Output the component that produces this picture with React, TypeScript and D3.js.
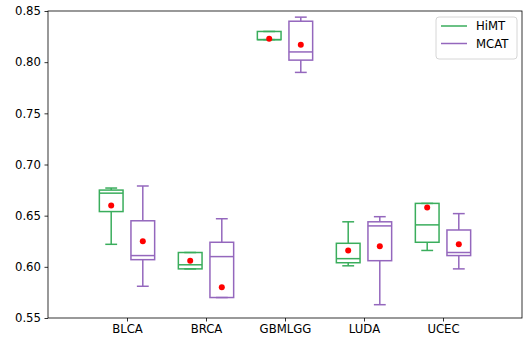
import { useRef, useEffect } from 'react';
import * as d3 from 'd3';

const categories = ['BLCA', 'BRCA', 'GBMLGG', 'LUDA', 'UCEC'];
const seriesNames = ['HiMT', 'MCAT'];
const colors = ['#3aad5c', '#9467bd'];

// box stats: [whislo, q1, median, q3, whishi]
const himtBoxes = [
  [0.622, 0.654, 0.672, 0.675, 0.677],
  [0.598, 0.598, 0.602, 0.614, 0.614],
  [0.822, 0.822, 0.822, 0.830, 0.830],
  [0.601, 0.604, 0.608, 0.623, 0.644],
  [0.616, 0.624, 0.641, 0.662, 0.662],
];
const mcatBoxes = [
  [0.581, 0.607, 0.611, 0.645, 0.679],
  [0.570, 0.570, 0.610, 0.624, 0.647],
  [0.790, 0.802, 0.810, 0.840, 0.844],
  [0.563, 0.606, 0.640, 0.644, 0.649],
  [0.598, 0.611, 0.614, 0.636, 0.652],
];
const himtMeans = [0.660, 0.606, 0.823, 0.616, 0.658];
const mcatMeans = [0.625, 0.580, 0.817, 0.620, 0.622];
const yTicks = [0.55, 0.6, 0.65, 0.7, 0.75, 0.8, 0.85];

export default function App() {
  const svgRef = useRef(null);

  useEffect(() => {
    const width = 526, height = 340;
    const margin = { left: 48, right: 4, top: 11, bottom: 22 };

    const svg = d3.select(svgRef.current);
    svg.selectAll('*').remove();

    const x = d3.scaleLinear().domain([0, 6]).range([margin.left, width - margin.right]);
    const y = d3.scaleLinear().domain([0.55, 0.85]).range([height - margin.bottom, margin.top]);

    const offsets = [-0.2, 0.2];
    const boxW = 0.3;
    const allBoxes = [himtBoxes, mcatBoxes];
    const allMeans = [himtMeans, mcatMeans];

    const g = svg.append('g');

    allBoxes.forEach((boxes, s) => {
      boxes.forEach((b, i) => {
        const cx = x(i + 1 + offsets[s]);
        const x0 = x(i + 1 + offsets[s] - boxW / 2);
        const x1 = x(i + 1 + offsets[s] + boxW / 2);
        const capHalf = (x1 - x0) / 4;
        const grp = g.append('g')
          .attr('stroke', colors[s])
          .attr('stroke-width', 1.5)
          .attr('fill', 'none');
        // whiskers
        grp.append('line').attr('x1', cx).attr('x2', cx).attr('y1', y(b[0])).attr('y2', y(b[1]));
        grp.append('line').attr('x1', cx).attr('x2', cx).attr('y1', y(b[3])).attr('y2', y(b[4]));
        // caps
        grp.append('line').attr('x1', cx - capHalf).attr('x2', cx + capHalf).attr('y1', y(b[0])).attr('y2', y(b[0]));
        grp.append('line').attr('x1', cx - capHalf).attr('x2', cx + capHalf).attr('y1', y(b[4])).attr('y2', y(b[4]));
        // box
        grp.append('rect')
          .attr('x', x0).attr('width', x1 - x0)
          .attr('y', y(b[3])).attr('height', y(b[1]) - y(b[3]));
        // median
        grp.append('line').attr('x1', x0).attr('x2', x1).attr('y1', y(b[2])).attr('y2', y(b[2]));
        // mean
        g.append('circle')
          .attr('cx', cx).attr('cy', y(allMeans[s][i]))
          .attr('r', 3).attr('fill', 'red');
      });
    });

    // frame
    svg.append('rect')
      .attr('x', margin.left).attr('y', margin.top)
      .attr('width', width - margin.left - margin.right)
      .attr('height', height - margin.top - margin.bottom)
      .attr('fill', 'none').attr('stroke', '#000').attr('stroke-width', 0.8);

    const yAxis = svg.append('g')
      .attr('transform', `translate(${margin.left},0)`)
      .call(d3.axisLeft(y).tickValues(yTicks).tickFormat(d3.format('.2f')).tickSize(3.5).tickPadding(3.5));
    yAxis.select('.domain').remove();

    const xAxis = svg.append('g')
      .attr('transform', `translate(0,${height - margin.bottom})`)
      .call(d3.axisBottom(x).tickValues([1, 2, 3, 4, 5]).tickFormat((d, i) => categories[i]).tickSize(3.5).tickPadding(3.5));
    xAxis.select('.domain').remove();

    [yAxis, xAxis].forEach(a => {
      a.selectAll('text').attr('font-family', 'DejaVu Sans').attr('font-size', 11.7).attr('fill', '#000');
      a.selectAll('line').attr('stroke', '#000').attr('stroke-width', 0.8);
    });

    // legend
    const lg = svg.append('g').attr('transform', 'translate(436,17)');
    lg.append('rect')
      .attr('width', 81).attr('height', 42).attr('rx', 3)
      .attr('fill', '#fff').attr('fill-opacity', 0.8)
      .attr('stroke', '#ccc').attr('stroke-width', 0.8);
    seriesNames.forEach((name, i) => {
      const yy = 9 + i * 17.5;
      lg.append('line').attr('x1', 5).attr('x2', 31).attr('y1', yy).attr('y2', yy)
        .attr('stroke', colors[i]).attr('stroke-width', 1.5);
      lg.append('text').attr('x', 40).attr('y', yy).attr('dy', '0.35em')
        .attr('font-family', 'DejaVu Sans').attr('font-size', 11.7).attr('fill', '#000')
        .text(name);
    });
  }, []);

  return (
    <svg ref={svgRef} width={526} height={340}
      style={{ position: 'absolute', left: 0, top: 0, background: '#fff' }} />
  );
}
